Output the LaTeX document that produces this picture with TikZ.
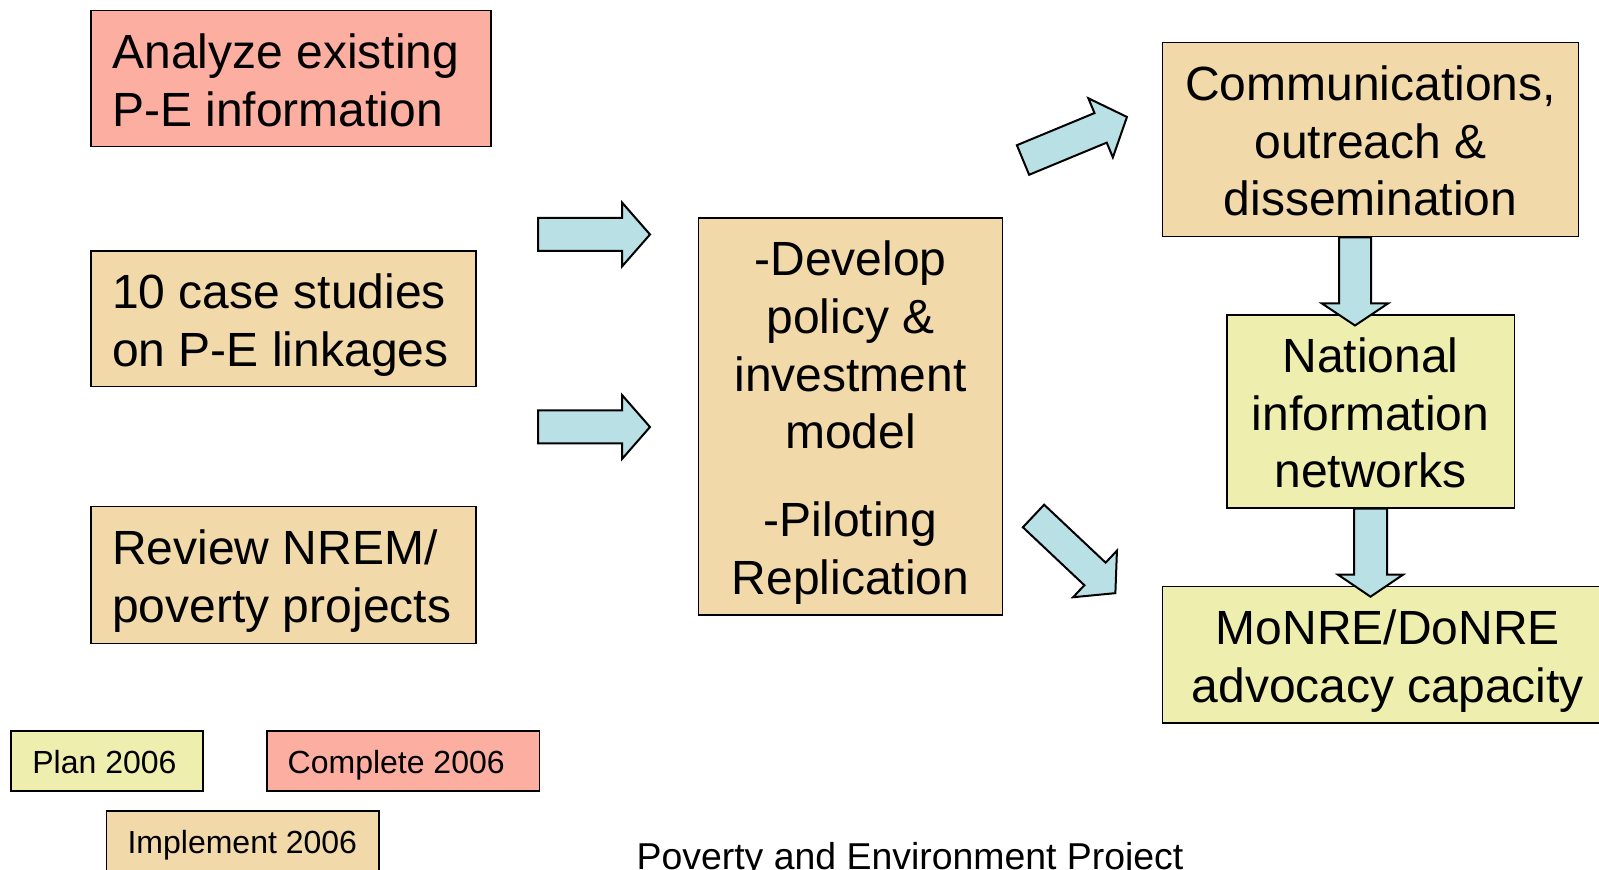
\documentclass[tikz,border=0pt]{standalone}
\usepackage{fontspec}
\setmainfont{Liberation Sans}
\definecolor{salmon}{RGB}{252,174,160}
\definecolor{tan}{RGB}{241,217,169}
\definecolor{paleyel}{RGB}{238,238,175}
\definecolor{arrowblue}{RGB}{185,224,228}
\newcommand\ms{\rule[-0.2125em]{0pt}{1.2em}}
\tikzset{
  box/.style={draw=black, line width=0.8pt, rectangle, inner sep=0pt},
  bigtxt/.style={font=\fontsize{24pt}{28.8pt}\selectfont, inner sep=0pt},
  smalltxt/.style={font=\fontsize{16pt}{19.2pt}\selectfont, inner sep=0pt},
  barrow/.style={draw=black, line width=1pt, fill=arrowblue, line join=miter},
}
\begin{document}
\begin{tikzpicture}[x=0.5pt,y=-0.5pt]
\useasboundingbox (0,0) rectangle (1599,870);
\clip (0,0) rectangle (1599,870);

% left boxes
\node[box, fill=salmon, minimum width=200pt, minimum height=68pt] (analyze) at (290.7,78.7) {};
\node[bigtxt, anchor=west, align=left] (analyzet) at ([xshift=11pt]analyze.west) {\ms Analyze existing\\\ms P-E information};

\node[box, fill=tan, minimum width=192.5pt, minimum height=67.8pt] (cases) at (283.2,318.7) {};
\node[bigtxt, anchor=west, align=left] (casest) at ([xshift=11pt]cases.west) {\ms 10 case studies\\\ms on P-E linkages};

\node[box, fill=tan, minimum width=192.5pt, minimum height=68.3pt] (review) at (283.2,575) {};
\node[bigtxt, anchor=west, align=left] (reviewt) at ([xshift=11pt]review.west) {\ms Review NREM/\\\ms poverty projects};

% centre box
\node[box, fill=tan, minimum width=152pt, minimum height=198.5pt, bigtxt, align=center] (model) at (850.5,416.5)
  {\ms -Develop\\\ms policy \&\\\ms investment\\\ms model\\[15.2pt]\ms -Piloting\\\ms Replication};

% right boxes
\node[box, fill=tan, minimum width=208pt, minimum height=97pt, bigtxt, align=center] (comm) at (1370.6,139.7)
  {\ms Communications,\\\ms outreach \&\\\ms dissemination};
\node[box, fill=paleyel, minimum width=143.8pt, minimum height=96.4pt, bigtxt, align=center] (nat) at (1370.6,411.5)
  {\ms National\\\ms information\\\ms networks};
\node[box, fill=paleyel, minimum width=225.2pt, minimum height=68.3pt, bigtxt, align=center] (monre) at (1387.8,654.7)
  {\ms MoNRE/DoNRE\\\ms advocacy capacity};

% block arrows (tail centre, rotation)
\newcommand\blockarrow[5]{% #1 tail, #2 angle, #3 length, #4 head length, #5 half shaft
  \begin{scope}[shift={#1}, rotate=#2]
    \draw[barrow] (0,-#5) -- ({#3-#4},-#5) -- ({#3-#4},-32) -- (#3,0) -- ({#3-#4},32) -- ({#3-#4},#5) -- (0,#5) -- cycle;
  \end{scope}}
\coordinate (a1) at (538,234.5);
\coordinate (a2) at (538,427);
\coordinate (a3) at (1023,160);
\coordinate (a4) at (1033.5,516);
\blockarrow{(a1)}{0}{112}{28}{16.5}
\blockarrow{(a2)}{0}{112}{28}{16.5}
\blockarrow{(a3)}{22.5}{112.5}{28.5}{16}
\blockarrow{(a4)}{-43.3}{112.5}{28}{15.5}

% vertical arrows between right boxes
\coordinate (ex) at (1355,0);
\coordinate (fx) at (1370.5,0);
\coordinate (e0) at (ex |- comm.south);
\coordinate (f0) at (fx |- nat.south);
\draw[barrow] ([xshift=-8pt]e0) -- ++(0,66) -- ++(-17,0) -- ++(33,22) -- ++(33,-22) -- ++(-17,0) -- ([xshift=8pt]e0) -- cycle;
\draw[barrow] ([xshift=-8.25pt]f0) -- ++(0,66) -- ++(-16,0) -- ++(32.5,22) -- ++(32.5,-22) -- ++(-16,0) -- ([xshift=8.25pt]f0) -- cycle;

% legend
\node[box, fill=paleyel, minimum width=96.2pt, minimum height=30pt] (plan) at (107,760.7) {};
\node[smalltxt, anchor=west] (plant) at ([xshift=11pt]plan.west) {\ms Plan 2006};
\node[box, fill=salmon, minimum width=136.3pt, minimum height=30pt] (complete) at (403,760.7) {};
\node[smalltxt, anchor=west] (completet) at ([xshift=10.7pt]complete.west) {\ms Complete 2006};
\node[box, fill=tan, minimum width=136.2pt, minimum height=30.5pt] (implement) at (242.8,841.2) {};
\node[smalltxt, anchor=west] (implementt) at ([xshift=10.7pt]implement.west) {\ms Implement 2006};

% footer
\node[font=\fontsize{18.7pt}{22pt}\selectfont, anchor=base, inner sep=0pt] (footer) at (910,869) {Poverty and Environment Project};
\end{tikzpicture}
\end{document}
